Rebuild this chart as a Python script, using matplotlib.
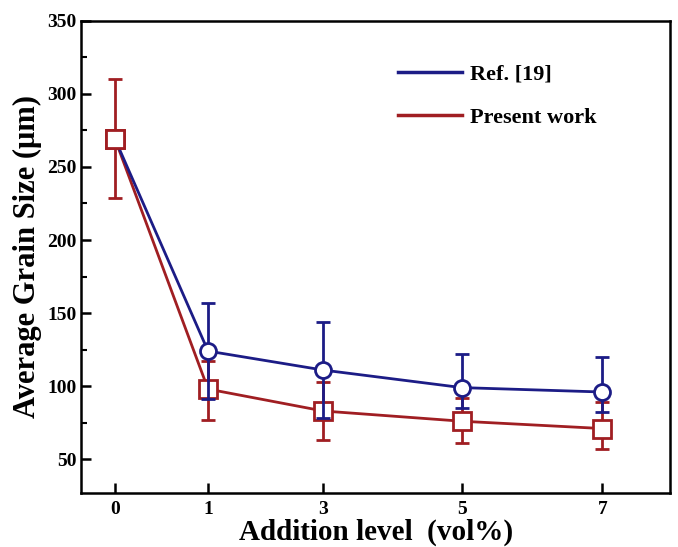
import matplotlib
matplotlib.use("Agg")
import matplotlib.pyplot as plt
from matplotlib.ticker import MultipleLocator
from matplotlib.lines import Line2D

plt.rcParams['font.family'] = ['Liberation Serif', 'DejaVu Serif']
plt.rcParams['font.weight'] = 'bold'

# data
levels = ['0', '1', '3', '5', '7']
xpos = [0, 1, 2.24, 3.73, 5.24]   # tick spacing in the original is uneven
ref = [269, 124, 111, 99, 96]
ref_up = [0, 33, 33, 23, 24]
ref_lo = [0, 33, 33, 14, 14]
present = [269, 98, 83, 76, 71]
pres_up = [41, 19, 20, 16, 18]
pres_lo = [40, 21, 20, 15, 14]

blue = '#1c1c86'
red = '#a01e22'

fig = plt.figure(figsize=(6.78, 5.47), dpi=100)
ax = fig.add_axes([0.1195, 0.099, 0.869, 0.863])

ax.errorbar(xpos, present, yerr=[pres_lo, pres_up], color=red, lw=2, elinewidth=2,
            capsize=5, capthick=2, marker='s', ms=12.5, mfc='white', mec=red, mew=2,
            zorder=2)
ax.errorbar(xpos, ref, yerr=[ref_lo, ref_up], color=blue, lw=2, elinewidth=2,
            capsize=5, capthick=2, marker='o', ms=11.5, mfc='white', mec=blue, mew=2,
            markevery=[1, 2, 3, 4], zorder=3)
# first red marker sits on top of the blue line
ax.plot(xpos[0], present[0], marker='s', ms=12.5, mfc='white', mec=red, mew=2, zorder=4)

ax.set_xlim(-0.366, 5.97)
ax.set_ylim(27, 350)
ax.set_xticks(xpos)
ax.set_xticklabels(levels)
ax.set_yticks([50, 100, 150, 200, 250, 300, 350])
ax.yaxis.set_minor_locator(MultipleLocator(25))

ax.tick_params(axis='both', which='major', direction='in', length=7, width=1.8,
               labelsize=14, top=False, right=False)
ax.tick_params(axis='x', pad=6)
ax.tick_params(axis='y', pad=3)
ax.tick_params(axis='y', which='minor', direction='in', length=4, width=1.5)
for s in ax.spines.values():
    s.set_linewidth(1.8)

ax.set_xlabel('Addition level  (vol%)', fontsize=21, fontweight='bold', labelpad=0)
ax.set_ylabel('Average Grain Size (\u03bcm)', fontsize=22, fontweight='bold', labelpad=4)

handles = [Line2D([], [], color=blue, lw=2.5), Line2D([], [], color=red, lw=2.5)]
leg = ax.legend(handles, ['Ref. [19]', 'Present work'], loc='upper left', frameon=False,
                fontsize=16, handlelength=2.9, handletextpad=0.36, labelspacing=1.0,
                bbox_to_anchor=(0.504, 0.95))
for t in leg.get_texts():
    t.set_fontweight('bold')

fig.savefig('out.png', dpi=100)
